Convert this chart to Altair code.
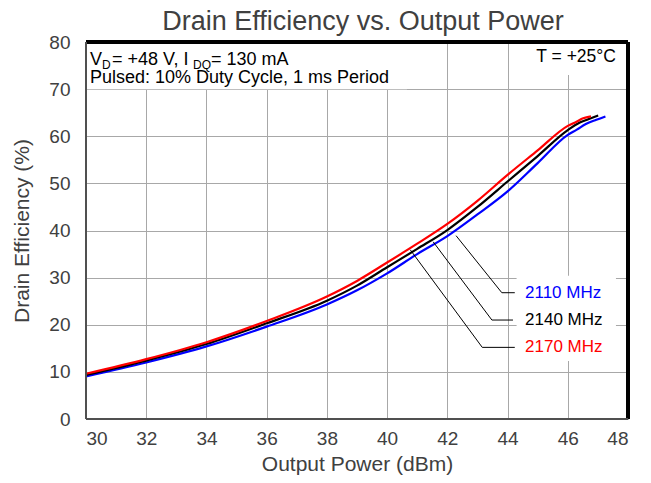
import altair as alt
import pandas as pd

FONT = "Liberation Sans"
NB = "\u00a0"

# ---- data ----
x_2110 = [30, 32, 34, 36, 38, 39, 40, 41, 42, 43, 44, 45, 46, 46.3, 46.6, 46.95, 47.25]
y_2110 = [9.05, 12.0, 15.4, 19.6, 24.3, 27.3, 30.9, 35.0, 38.8, 43.4, 48.3, 54.3, 60.3, 61.4, 62.6, 63.5, 64.2]

x_2140 = [30, 32, 34, 36, 38, 39, 40, 41, 42, 43, 44, 45, 46, 46.4, 46.68, 47.01]
y_2140 = [9.35, 12.4, 15.9, 20.3, 25.1, 28.3, 32.2, 36.1, 40.1, 45.0, 50.4, 55.8, 61.3, 62.9, 63.6, 64.4]

x_2170 = [30, 32, 34, 36, 38, 39, 40, 41, 42, 43, 44, 45, 46, 46.29, 46.51, 46.77]
y_2170 = [9.6, 12.7, 16.3, 20.8, 26.0, 29.3, 33.2, 37.2, 41.4, 46.3, 51.8, 57.0, 62.2, 63.1, 63.8, 64.2]

series_names = ["2110 MHz", "2140 MHz", "2170 MHz"]
series_colors = ["#0000ff", "#000000", "#ff0000"]

x_ticks = [30, 32, 34, 36, 38, 40, 42, 44, 46, 48]
y_ticks = [0, 10, 20, 30, 40, 50, 60, 70, 80]

# leader lines (start on curve -> elbow -> end at label)
lead_x = {"2110 MHz": [42.29, 43.81, 44.24], "2140 MHz": [41.53, 43.48, 44.18], "2170 MHz": [40.77, 43.16, 44.24]}
lead_y = {"2110 MHz": [38.9, 26.8, 26.8], "2140 MHz": [37.6, 21.0, 21.0], "2170 MHz": [35.9, 15.2, 15.2]}
label_x = 44.58
label_y = [26.8, 21.0, 15.2]

# white annotation boxes (x, x2, y, y2)
boxes_x = [30.0, 44.08, 44.3]
boxes_x2 = [40.66, 48.0, 47.6]
boxes_y = [70.0, 73.0, 12.3]
boxes_y2 = [80.0, 80.0, 30.4]

title_text = "Drain Efficiency vs. Output Power"

W, H = 542, 377

xs = alt.Scale(domain=[30, 48], nice=False, zero=False)
ys = alt.Scale(domain=[0, 80], nice=False)
cs = alt.Scale(domain=series_names, range=series_colors)

rows = []
for name, xv, yv in [("2110 MHz", x_2110, y_2110), ("2140 MHz", x_2140, y_2140), ("2170 MHz", x_2170, y_2170)]:
    for i, (a, b) in enumerate(zip(xv, yv)):
        rows.append({"p": a, "e": b, "s": name, "o": i})
df = pd.DataFrame(rows)

lrows = []
for name in series_names:
    for i, (a, b) in enumerate(zip(lead_x[name], lead_y[name])):
        lrows.append({"p": a, "e": b, "s": name, "o": i})
ldf = pd.DataFrame(lrows)

bdf = pd.DataFrame({"x": boxes_x, "x2": boxes_x2, "y": boxes_y, "y2": boxes_y2})
labdf = pd.DataFrame({"p": [label_x] * 3, "e": label_y, "s": series_names})

base_axes = alt.Chart(df).mark_line(opacity=0).encode(
    x=alt.X("p:Q", scale=xs, axis=alt.Axis(values=x_ticks, title="Output Power (dBm)", labelPadding=10, titlePadding=5)),
    y=alt.Y("e:Q", scale=ys, axis=alt.Axis(values=y_ticks, title="Drain Efficiency (%)", labelPadding=16, titlePadding=16)),
)

boxes = alt.Chart(bdf).mark_rect(fill="white").encode(
    x=alt.X("x:Q", scale=xs), x2="x2:Q", y=alt.Y("y:Q", scale=ys), y2="y2:Q"
)

curves = []
for name in series_names:
    curves.append(
        alt.Chart(df[df.s == name]).mark_line(strokeWidth=2.2, interpolate="monotone").encode(
            x=alt.X("p:Q", scale=xs), y=alt.Y("e:Q", scale=ys),
            color=alt.Color("s:N", scale=cs, legend=None), order="o:Q",
        )
    )

leaders = alt.Chart(ldf).mark_line(color="black", strokeWidth=1).encode(
    x=alt.X("p:Q", scale=xs), y=alt.Y("e:Q", scale=ys), detail="s:N", order="o:Q"
)

labels = alt.Chart(labdf).mark_text(align="left", baseline="middle", font=FONT, fontSize=17).encode(
    x=alt.X("p:Q", scale=xs), y=alt.Y("e:Q", scale=ys), text="s:N",
    color=alt.Color("s:N", scale=cs, legend=None),
)

# annotation texts (main + subscripts)
ann_main = pd.DataFrame({
    "t": ["V", NB + "=" + NB + "+48" + NB + "V," + NB + "I", NB + "=" + NB + "130" + NB + "mA",
          "Pulsed: 10% Duty Cycle, 1 ms Period"],
    "px": [4, 26.0, 125.0, 4],
    "py": [22.7, 22.7, 22.7, 41.1],
})
ann_sub = pd.DataFrame({"t": ["D", "DQ"], "px": [16, 107.0], "py": [26.7, 26.7]})

t_main = alt.Chart(ann_main).mark_text(align="left", baseline="alphabetic", font=FONT, fontSize=18, color="black").encode(
    x=alt.X("px:Q", scale=None), y=alt.Y("py:Q", scale=None), text="t:N"
)
t_sub = alt.Chart(ann_sub).mark_text(align="left", baseline="alphabetic", font=FONT, fontSize=12, color="black").encode(
    x=alt.X("px:Q", scale=None), y=alt.Y("py:Q", scale=None), text="t:N"
)
temp = alt.Chart(pd.DataFrame({"p": [47.6], "e": [76.9], "t": ["T = +25°C"]})).mark_text(
    align="right", baseline="middle", font=FONT, fontSize=17.5, color="black"
).encode(x=alt.X("p:Q", scale=xs), y=alt.Y("e:Q", scale=ys), text="t:N")

title = alt.Chart(pd.DataFrame({"t": [title_text]})).mark_text(
    align="center", baseline="alphabetic", font=FONT, fontSize=27, color="#404040"
).encode(x=alt.value(W / 2 + 6), y=alt.value(-12), text="t:N")

frame_tr = [
    alt.Chart(df).mark_rule(color="black", strokeWidth=2.5).encode(x=alt.value(0), x2=alt.value(W), y=alt.value(0)),
    alt.Chart(df).mark_rule(color="black", strokeWidth=2.5).encode(x=alt.value(W), y=alt.value(0), y2=alt.value(H)),
    alt.Chart(df).mark_rule(color="#505050", strokeWidth=2).encode(x=alt.value(0), y=alt.value(0), y2=alt.value(H)),
    alt.Chart(df).mark_rule(color="#505050", strokeWidth=2).encode(x=alt.value(0), x2=alt.value(W), y=alt.value(H)),
]

chart = alt.layer(base_axes, boxes, *curves, leaders, labels, t_main, t_sub, temp, title, *frame_tr).properties(
    width=W, height=H,
    autosize=alt.AutoSizeParams(type="none"),
    padding={"left": 78, "top": 34, "right": 15, "bottom": 56},
).configure_view(stroke=None).configure_axis(
    grid=True, gridColor="#a8a8a8", gridWidth=1, domain=False, ticks=False,
    labelFont=FONT, labelFontSize=19, labelColor="#404040",
    titleFont=FONT, titleFontSize=21, titleFontWeight="normal", titleColor="#404040",
)

chart.save("out.html", embed_options={"renderer": "svg", "actions": False})
